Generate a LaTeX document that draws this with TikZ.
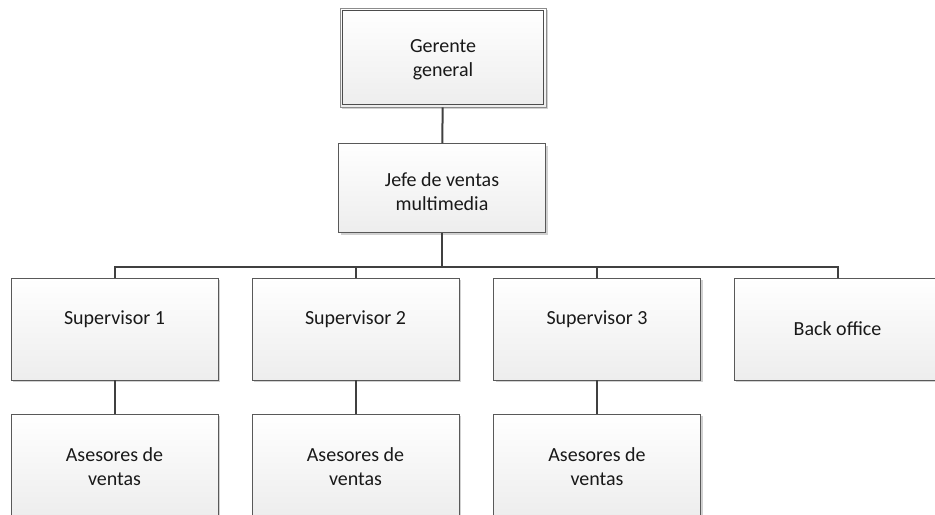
\documentclass[tikz,border=0pt]{standalone}
\usepackage{fontspec}
\setmainfont{Carlito}
\usetikzlibrary{shadows}
% invisible rule that lowers a multi-line label a little inside its box
\newcommand\topgap[1]{\rule{0pt}{#1}}
\begin{document}
\begin{tikzpicture}[x=0.75pt,y=-0.75pt,
  box/.style={draw=black!65, line width=0.6pt, top color=white, bottom color=black!7,
    minimum width=155.25pt, minimum height=76.5pt, inner sep=0pt, align=center,
    font=\fontsize{15}{17.5}\selectfont, text=black!90,
    drop shadow={shadow xshift=1.8pt, shadow yshift=-1.8pt, fill=black!18, opacity=1}},
  innerframe/.style={draw=black!70, line width=0.6pt},
  link/.style={draw=black!75, line width=1.5pt}
]
\useasboundingbox (0,0) rectangle (935,514);

% boxes
\node[box, draw=black!45, minimum width=154.5pt, minimum height=74.25pt] (gg) at (443,57.5) {\topgap{13pt}Gerente\\general};
\draw[innerframe] ([shift={(2.2pt,-2.2pt)}]gg.north west) rectangle ([shift={(-2.2pt,2.2pt)}]gg.south east);
\node[box, minimum height=66.75pt] (jf) at (442,188) {\topgap{16pt}Jefe de ventas\\multimedia};

\node[box] (s1) at (114.5,329) {\topgap{16.5pt}Supervisor 1\\ \strut};
\node[box] (s2) at (355.5,329) {\topgap{16.5pt}Supervisor 2\\ \strut};
\node[box] (s3) at (597,329) {\topgap{16.5pt}Supervisor 3\\ \strut};
\node[box] (bo) at (837.5,329) {Back office};

\node[box] (a1) at (114.5,465) {\topgap{13pt}Asesores de\\ventas};
\node[box] (a2) at (355.5,465) {\topgap{13pt}Asesores de\\ventas};
\node[box] (a3) at (597,465) {\topgap{13pt}Asesores de\\ventas};

% connectors
\coordinate (bus) at (442,267);
\draw[link] (gg) -- (jf);
\draw[link] (jf.south) -- (jf.south |- bus);
\draw[link, line join=miter] (s1.north) -- (s1.north |- bus) -- (bo.north |- bus) -- (bo.north);
\draw[link] (s2.north) -- (s2.north |- bus);
\draw[link] (s3.north) -- (s3.north |- bus);
\foreach \i in {1,2,3} {
  \draw[link] (s\i.south) -- (a\i.north);
}
\end{tikzpicture}
\end{document}
